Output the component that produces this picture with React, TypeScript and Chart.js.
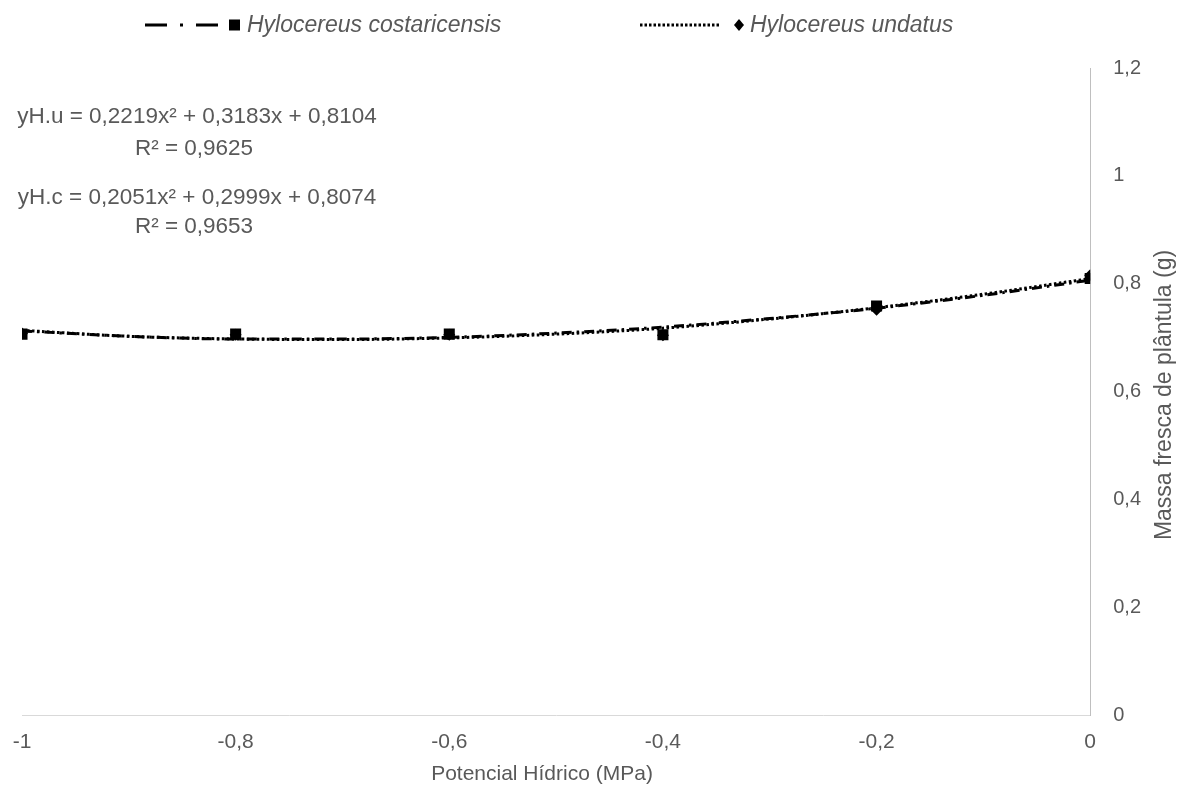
import React, { useEffect, useRef } from "react";
import { Chart, registerables } from "chart.js";

Chart.register(...registerables);

// ---- data ----
const xValues = [-1, -0.8, -0.6, -0.4, -0.2, 0];
const costaricensisValues = [0.707, 0.707, 0.707, 0.706, 0.759, 0.81];
const undatusValues = [0.708, 0.706, 0.706, 0.705, 0.752, 0.816];

// trend curves at 0.1 steps
const trendX = [-1, -0.9, -0.8, -0.7, -0.6, -0.5, -0.4, -0.3, -0.2, -0.1, 0];
const trendCostaricensis = [0.713, 0.703, 0.698, 0.698, 0.701, 0.709, 0.720, 0.736, 0.755, 0.779, 0.807];
const trendUndatus = [0.714, 0.703, 0.698, 0.697, 0.700, 0.707, 0.718, 0.735, 0.756, 0.781, 0.810];

const seriesNames = ["Hylocereus costaricensis", "Hylocereus undatus"];
const equationLines = [
  "yH.u = 0,2219x² + 0,3183x + 0,8104",
  "R² = 0,9625",
  "yH.c = 0,2051x² + 0,2999x + 0,8074",
  "R² = 0,9653",
];
const xTitle = "Potencial Hídrico (MPa)";
const yTitle = "Massa fresca de plântula (g)";

const FONT = "'Liberation Sans', Arial, sans-serif";
const GREY = "#595959";
const DASHDOT = [10, 5, 2.5, 5];
const DOTTED = [2.5, 2.5];

const fmt = (v: number) => {
  const r = Math.round(v * 10) / 10;
  return String(r).replace(".", ",");
};

const annotationPlugin = {
  id: "annotations",
  afterDraw(chart: any) {
    const ctx = chart.ctx as CanvasRenderingContext2D;
    ctx.save();
    // legend
    ctx.strokeStyle = "#000";
    ctx.lineWidth = 3;
    ctx.setLineDash([22, 13, 3, 13]);
    ctx.beginPath();
    ctx.moveTo(145, 25);
    ctx.lineTo(220, 25);
    ctx.stroke();
    ctx.setLineDash([]);
    ctx.fillStyle = "#000";
    ctx.fillRect(229, 19.5, 11, 11);

    ctx.setLineDash([2.5, 2]);
    ctx.beginPath();
    ctx.moveTo(640, 25);
    ctx.lineTo(720, 25);
    ctx.stroke();
    ctx.setLineDash([]);
    ctx.beginPath();
    ctx.moveTo(739, 19);
    ctx.lineTo(744, 25);
    ctx.lineTo(739, 31);
    ctx.lineTo(734, 25);
    ctx.closePath();
    ctx.fill();

    ctx.fillStyle = GREY;
    ctx.font = `italic 23px ${FONT}`;
    ctx.textBaseline = "middle";
    ctx.textAlign = "left";
    ctx.fillText(seriesNames[0], 247, 26);
    ctx.fillText(seriesNames[1], 750, 26);

    // equations
    ctx.font = `22.5px ${FONT}`;
    ctx.textAlign = "center";
    const ys = [117, 149, 198, 227];
    const xs = [197, 194, 197, 194];
    equationLines.forEach((t, i) => ctx.fillText(t, xs[i], ys[i]));

    // axis titles
    ctx.font = `21px ${FONT}`;
    ctx.fillText(xTitle, 542, 774);
    ctx.translate(1165, 395);
    ctx.rotate(-Math.PI / 2);
    ctx.font = `23px ${FONT}`;
    ctx.fillText(yTitle, 0, 0);
    ctx.restore();
  },
};

export default function App() {
  const ref = useRef<HTMLCanvasElement | null>(null);
  useEffect(() => {
    document.body.style.margin = "0";
    const canvas = ref.current;
    if (!canvas) return;
    const chart = new Chart(canvas, {
      type: "scatter",
      data: {
        datasets: [
          {
            label: seriesNames[0],
            data: xValues.map((x, i) => ({ x, y: costaricensisValues[i] })),
            pointStyle: "rect",
            pointRadius: 7.8,
            backgroundColor: "#000",
            borderColor: "#000",
            borderWidth: 0,
            showLine: false,
          },
          {
            label: seriesNames[1],
            data: xValues.map((x, i) => ({ x, y: undatusValues[i] })),
            pointStyle: "rectRot",
            pointRadius: 6,
            backgroundColor: "#000",
            borderColor: "#000",
            borderWidth: 0,
            showLine: false,
          },
          {
            label: "trend c",
            data: trendX.map((x, i) => ({ x, y: trendCostaricensis[i] })),
            showLine: true,
            borderColor: "#000",
            borderWidth: 3,
            borderDash: DASHDOT,
            pointRadius: 0,
            cubicInterpolationMode: "monotone",
          },
          {
            label: "trend u",
            data: trendX.map((x, i) => ({ x, y: trendUndatus[i] })),
            showLine: true,
            borderColor: "#000",
            borderWidth: 3,
            borderDash: DOTTED,
            pointRadius: 0,
            cubicInterpolationMode: "monotone",
          },
        ],
      },
      options: {
        animation: false,
        responsive: false,
        layout: { padding: { left: 22, right: 23, top: 68, bottom: 29 } },
        plugins: { legend: { display: false }, tooltip: { enabled: false } },
        scales: {
          x: {
            type: "linear",
            min: -1,
            max: 0,
            position: "bottom",
            grid: { display: false },
            border: { color: "#d9d9d9", width: 1 },
            ticks: {
              stepSize: 0.2,
              color: GREY,
              padding: 6,
              font: { family: FONT, size: 21 },
              callback: (v: any) => fmt(Number(v)),
            },
          },
          y: {
            type: "linear",
            min: 0,
            max: 1.2,
            position: "right",
            grid: { display: false },
            border: { color: "#bfbfbf", width: 1 },
            ticks: {
              stepSize: 0.2,
              color: GREY,
              padding: 15,
              font: { family: FONT, size: 20 },
              callback: (v: any) => fmt(Number(v)),
            },
          },
        },
      },
      plugins: [annotationPlugin],
    } as any);
    return () => chart.destroy();
  }, []);
  return <canvas ref={ref} width={1179} height={790} style={{ display: "block" }} />;
}
